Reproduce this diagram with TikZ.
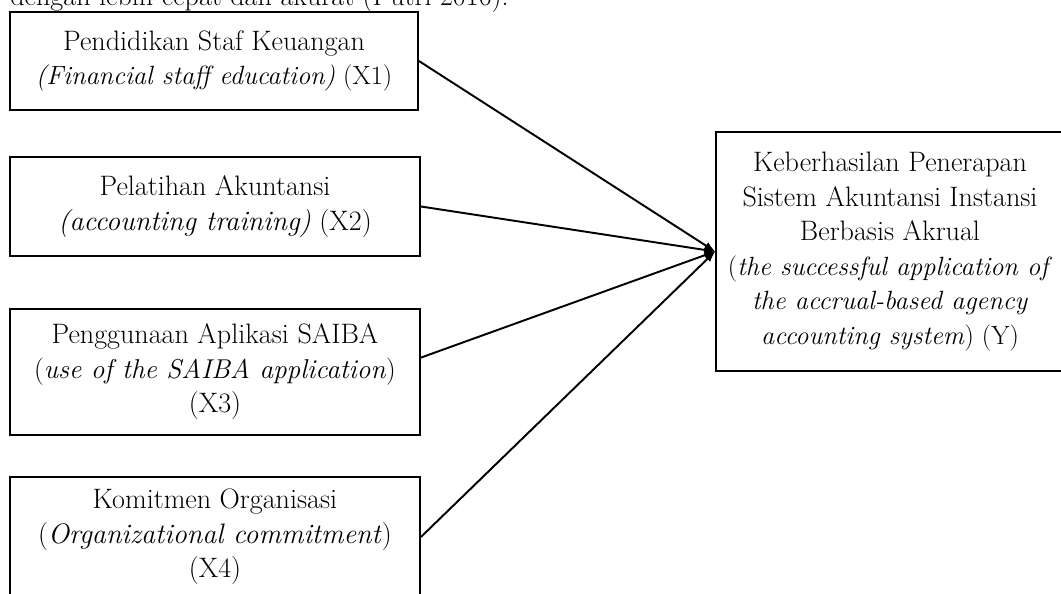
\documentclass[tikz,border=0pt]{standalone}
\begin{document}
\begin{tikzpicture}[x=0.02cm,y=-0.02cm]

\tikzset{
  varbox/.style={draw, line width=1.1pt, align=center, inner sep=0pt,
    font=\fontsize{16}{19.6}\selectfont},
  link/.style={line width=1.1pt, -latex}
}

\def \boxw{8.2cm};
\def \small{\fontsize{15}{19.6}\selectfont};

\useasboundingbox (0,0) rectangle (1061,594);
\clip (0,0) rectangle (1061,594);

% last line of the text above, cut by the page
\node[anchor=base west, inner sep=0pt, font=\fontsize{16}{19.6}\selectfont]
(lead) at (10,6) {dengan lebih cepat dan akurat (Putri 2016).};

\node[varbox, minimum width=8.16cm, minimum height=1.96cm] (x1) at (214,61)
{Pendidikan Staf Keuangan\\{\small\textit{(Financial staff education)} (X1)}};

\node[varbox, minimum width=\boxw, minimum height=1.98cm] (x2) at (215,206.5)
{Pelatihan Akuntansi\\\textit{(accounting training)} (X2)};

\node[varbox, minimum width=\boxw, minimum height=2.52cm] (x3) at (215,372)
{Penggunaan Aplikasi SAIBA\\{\fontsize{15.5}{19.6}\selectfont(\textit{use of the SAIBA application})}\\(X3)};

\node[varbox, minimum width=\boxw, minimum height=2.4cm] (x4) at (215,537)
{Komitmen Organisasi\\(\textit{Organizational commitment})\\(X4)};

\node[varbox, minimum width=6.96cm, minimum height=4.78cm] (y) at (890,251.5)
{Keberhasilan Penerapan\\Sistem Akuntansi Instansi\\Berbasis Akrual\\
{\small(\textit{the successful application of}}\\{\small\textit{the accrual-based agency}}\\
{\small\textit{accounting system}) (Y)}};

\draw[link] (x1.east) -- (y.west);
\draw[link] (x2.east) -- (y.west);
\draw[link] (x3.4) -- (y.west);
\draw[link] (x4.east) -- (y.west);

\end{tikzpicture}
\end{document}
